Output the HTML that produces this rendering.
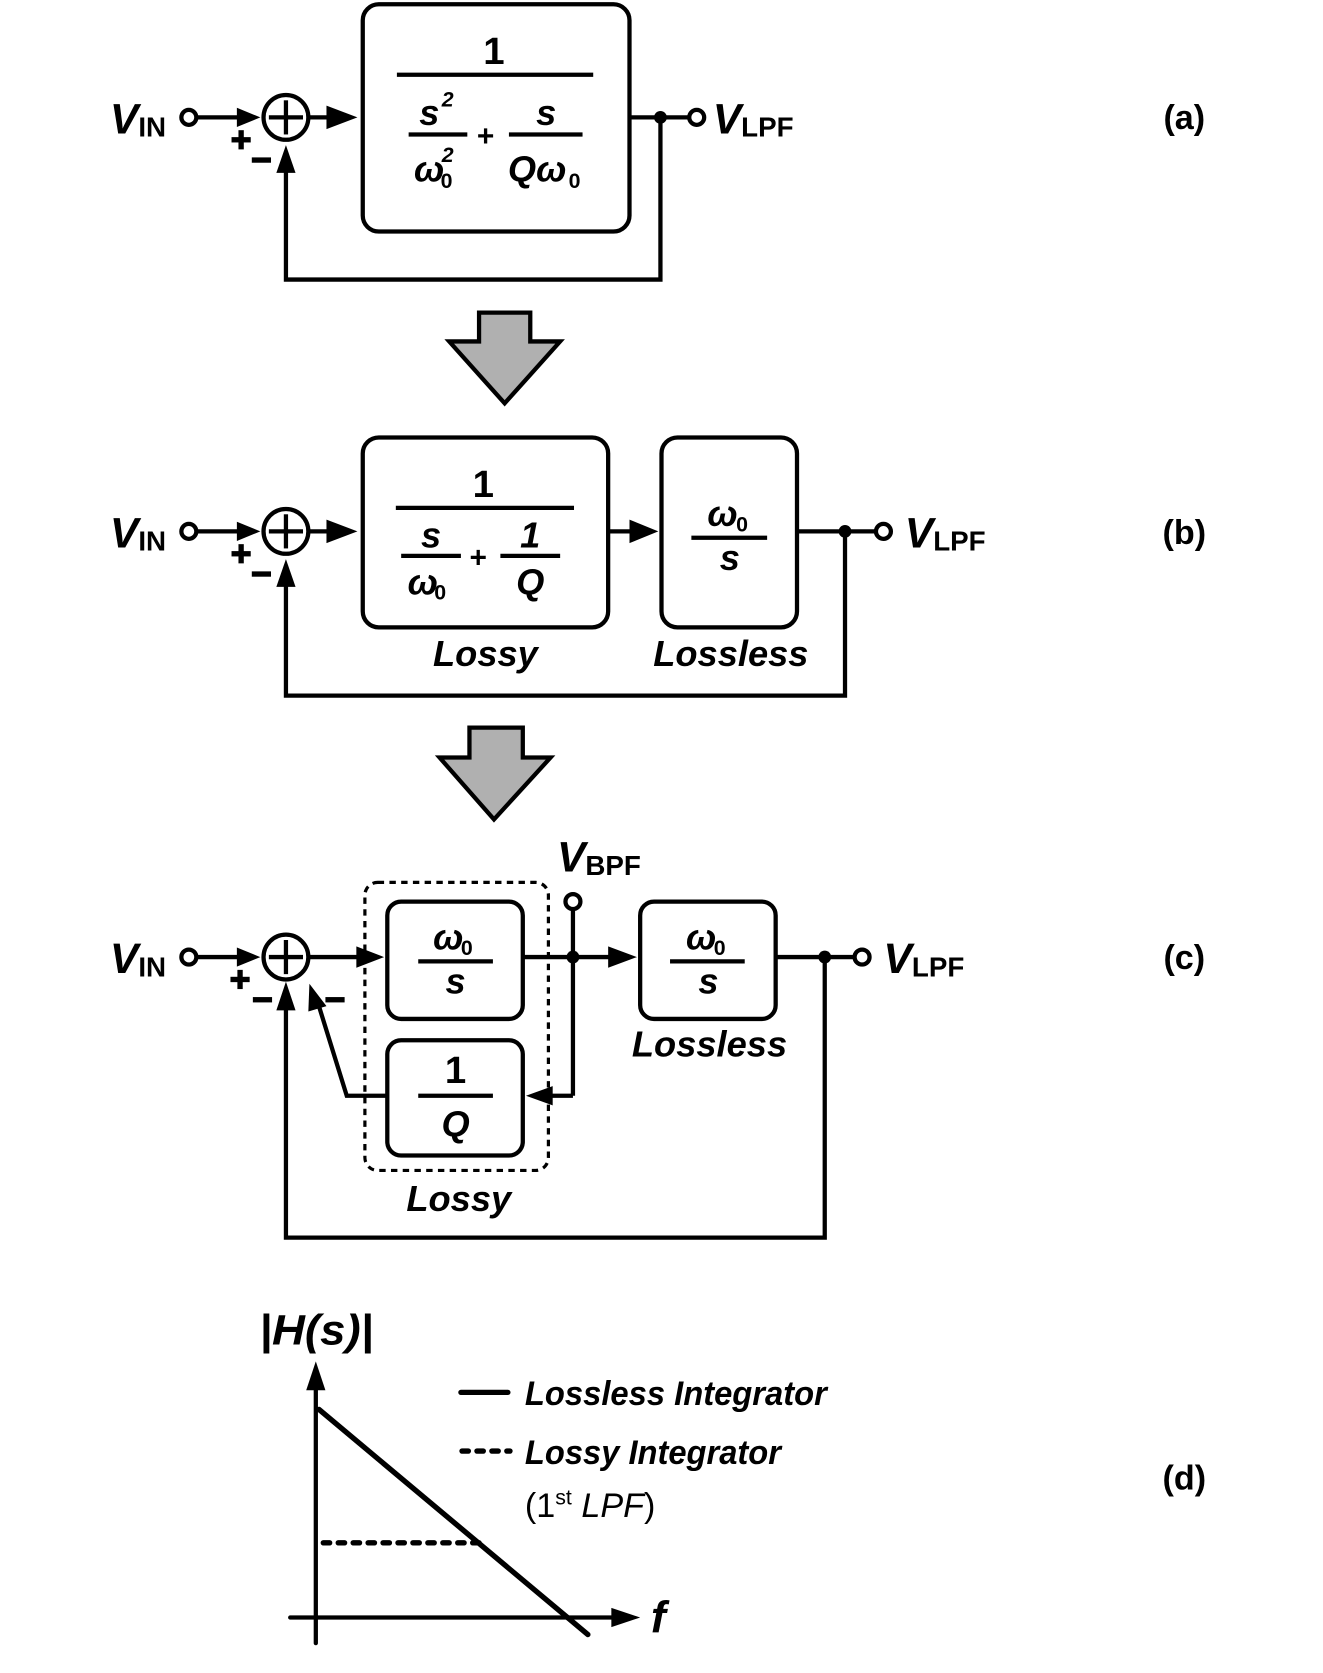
<!DOCTYPE html>
<html><head><meta charset="utf-8"><style>
html,body{margin:0;padding:0;background:#fff;}
svg{display:block;}
text{font-family:"Liberation Sans",Arial,sans-serif;font-weight:bold;fill:#000;}
.it{font-style:italic;}
</style></head><body>
<svg width="1323" height="1673" viewBox="0 0 1240 1568" xmlns="http://www.w3.org/2000/svg">
<defs>
<g id="plus"><rect x="-9" y="-2.5" width="18" height="5"/><rect x="-2.5" y="-9" width="5" height="18"/></g>
<g id="minus"><rect x="-9" y="-2.5" width="18" height="5"/></g>
</defs>
<g stroke="#000" stroke-width="4" fill="none">
<!-- (a) -->
<circle cx="177" cy="110" r="7" fill="#fff"/>
<line x1="184" y1="110" x2="226" y2="110"/>
<circle cx="268" cy="110" r="21"/>
<line x1="252" y1="110" x2="284" y2="110"/><line x1="268" y1="94" x2="268" y2="126"/>
<line x1="289" y1="110" x2="310" y2="110"/>
<rect x="340" y="4" width="250" height="213" rx="15"/>
<line x1="372" y1="70" x2="556" y2="70"/>
<line x1="383" y1="126" x2="438" y2="126"/>
<line x1="477" y1="126" x2="546" y2="126"/>
<line x1="590" y1="110" x2="646" y2="110"/>
<circle cx="653" cy="110" r="7" fill="#fff"/>
<polyline points="619,110 619,262 268,262 268,160"/>
<!-- (b) -->
<circle cx="177" cy="498" r="7" fill="#fff"/>
<line x1="184" y1="498" x2="226" y2="498"/>
<circle cx="268" cy="498" r="21"/>
<line x1="252" y1="498" x2="284" y2="498"/><line x1="268" y1="482" x2="268" y2="514"/>
<line x1="289" y1="498" x2="310" y2="498"/>
<rect x="340" y="410" width="230" height="178" rx="15"/>
<line x1="371" y1="476" x2="538" y2="476"/>
<line x1="376" y1="521" x2="432" y2="521"/>
<line x1="469" y1="521" x2="525" y2="521"/>
<line x1="570" y1="498" x2="592" y2="498"/>
<rect x="620" y="410" width="127" height="178" rx="15"/>
<line x1="648" y1="504" x2="719" y2="504"/>
<line x1="747" y1="498" x2="821" y2="498"/>
<circle cx="828" cy="498" r="7" fill="#fff"/>
<polyline points="792,498 792,652 268,652 268,548"/>
<!-- (c) -->
<circle cx="177" cy="897" r="7" fill="#fff"/>
<line x1="184" y1="897" x2="226" y2="897"/>
<circle cx="268" cy="897" r="21"/>
<line x1="252" y1="897" x2="284" y2="897"/><line x1="268" y1="881" x2="268" y2="913"/>
<line x1="289" y1="897" x2="336" y2="897"/>
<rect x="342" y="827" width="172" height="270" rx="12" stroke-width="3" stroke-dasharray="6,5"/>
<rect x="363" y="845" width="127" height="110" rx="13"/>
<line x1="392" y1="901" x2="462" y2="901"/>
<rect x="363" y="975" width="127" height="108" rx="13"/>
<line x1="392" y1="1027" x2="462" y2="1027"/>
<line x1="490" y1="897" x2="572" y2="897"/>
<line x1="537" y1="852" x2="537" y2="1027"/><line x1="537" y1="1027" x2="515" y2="1027"/>
<circle cx="537" cy="845" r="7" fill="#fff"/>
<polyline points="363,1027 325,1027 298,940"/>
<rect x="600" y="845" width="127" height="110" rx="13"/>
<line x1="628" y1="901" x2="698" y2="901"/>
<line x1="727" y1="897" x2="801" y2="897"/>
<circle cx="808" cy="897" r="7" fill="#fff"/>
<polyline points="773,897 773,1160 268,1160 268,945"/>
<!-- (d) -->
<line x1="296" y1="1540" x2="296" y2="1300" stroke-linecap="round"/>
<line x1="272" y1="1516" x2="575" y2="1516" stroke-linecap="round"/>
<line x1="299" y1="1321" x2="551" y2="1532" stroke-width="5" stroke-linecap="round"/>
<line x1="303" y1="1446" x2="450" y2="1446" stroke-width="5" stroke-dasharray="6,8" stroke-linecap="round"/>
<line x1="432" y1="1305" x2="476" y2="1305" stroke-width="5" stroke-linecap="round"/>
<line x1="433" y1="1360" x2="478" y2="1360" stroke-width="5" stroke-dasharray="6,8" stroke-linecap="round"/>
</g>
<g fill="#000">
<polygon points="244,110 222,101 222,119"/>
<polygon points="335,110 306,99 306,121"/>
<polygon points="268,136 259,162 277,162"/>
<polygon points="244,498 222,489 222,507"/>
<polygon points="335,498 306,487 306,509"/>
<polygon points="268,524 259,550 277,550"/>
<polygon points="617,498 590,487 590,509"/>
<polygon points="244,897 222,888 222,906"/>
<polygon points="360,897 334,887 334,907"/>
<polygon points="597,897 570,887 570,907"/>
<polygon points="268,920 259,947 277,947"/>
<polygon points="493,1027 518,1018 518,1036"/>
<polygon points="290,922 289,948 306,943"/>
<polygon points="296,1276 287,1303 305,1303"/>
<polygon points="600,1516 573,1507 573,1525"/>
<circle cx="619" cy="110" r="6"/>
<circle cx="792" cy="498" r="6"/>
<circle cx="537" cy="897" r="6"/>
<circle cx="773" cy="897" r="6"/>
<use href="#plus" x="226" y="131"/><use href="#minus" x="245" y="150"/>
<use href="#plus" x="226" y="519"/><use href="#minus" x="245" y="538"/>
<use href="#plus" x="225" y="918"/><use href="#minus" x="246" y="937"/><use href="#minus" x="314" y="937"/>
</g>
<polygon points="449,293 497,293 497,320 525,320 473,378 421,320 449,320" fill="#b0b0b0" stroke="#000" stroke-width="4"/>
<polygon points="440,682 490,682 490,710 516,710 463,768 412,710 440,710" fill="#b0b0b0" stroke="#000" stroke-width="4"/>
<!-- text (a) -->
<text x="103" y="125" font-size="40" class="it">V<tspan font-size="26" font-style="normal" dy="3">IN</tspan></text>
<text x="463" y="60" font-size="36" text-anchor="middle">1</text>
<text x="393" y="117" font-size="34" class="it">s</text><text x="414" y="100" font-size="20" class="it">2</text>
<text x="388" y="170" font-size="34" class="it">ω</text><text x="413" y="176" font-size="20">0</text><text x="414" y="152" font-size="20" class="it">2</text>
<text x="447" y="137" font-size="28">+</text>
<text x="512" y="117" font-size="34" class="it" text-anchor="middle">s</text>
<text x="476" y="170" font-size="34" class="it">Qω</text><text x="533" y="176" font-size="20">0</text>
<text x="668" y="125" font-size="40" class="it">V<tspan font-size="26" font-style="normal" dy="3">LPF</tspan></text>
<text x="1110" y="121" font-size="32" text-anchor="middle">(a)</text>
<!-- text (b) -->
<text x="103" y="513" font-size="40" class="it">V<tspan font-size="26" font-style="normal" dy="3">IN</tspan></text>
<text x="453" y="466" font-size="36" text-anchor="middle">1</text>
<text x="404" y="513" font-size="34" class="it" text-anchor="middle">s</text>
<text x="382" y="557" font-size="34" class="it">ω</text><text x="407" y="562" font-size="20">0</text>
<text x="440" y="532" font-size="28">+</text>
<text x="497" y="513" font-size="34" class="it" text-anchor="middle">1</text>
<text x="497" y="557" font-size="34" class="it" text-anchor="middle">Q</text>
<text x="663" y="493" font-size="34" class="it">ω</text><text x="690" y="498" font-size="20">0</text>
<text x="684" y="534" font-size="34" class="it" text-anchor="middle">s</text>
<text x="455" y="624" font-size="34" class="it" text-anchor="middle">Lossy</text>
<text x="685" y="624" font-size="34" class="it" text-anchor="middle">Lossless</text>
<text x="848" y="513" font-size="40" class="it">V<tspan font-size="26" font-style="normal" dy="3">LPF</tspan></text>
<text x="1110" y="510" font-size="32" text-anchor="middle">(b)</text>
<!-- text (c) -->
<text x="103" y="912" font-size="40" class="it">V<tspan font-size="26" font-style="normal" dy="3">IN</tspan></text>
<text x="406" y="890" font-size="34" class="it">ω</text><text x="432" y="895" font-size="20">0</text>
<text x="427" y="931" font-size="34" class="it" text-anchor="middle">s</text>
<text x="427" y="1015" font-size="36" text-anchor="middle">1</text>
<text x="427" y="1065" font-size="34" class="it" text-anchor="middle">Q</text>
<text x="643" y="890" font-size="34" class="it">ω</text><text x="669" y="895" font-size="20">0</text>
<text x="664" y="931" font-size="34" class="it" text-anchor="middle">s</text>
<text x="522" y="817" font-size="40" class="it">V<tspan font-size="26" font-style="normal" dy="3">BPF</tspan></text>
<text x="665" y="990" font-size="34" class="it" text-anchor="middle">Lossless</text>
<text x="430" y="1135" font-size="34" class="it" text-anchor="middle">Lossy</text>
<text x="828" y="912" font-size="40" class="it">V<tspan font-size="26" font-style="normal" dy="3">LPF</tspan></text>
<text x="1110" y="908" font-size="32" text-anchor="middle">(c)</text>
<!-- text (d) -->
<text x="243" y="1260" font-size="40" class="it" textLength="107" lengthAdjust="spacingAndGlyphs">|H(s)|</text>
<text x="492" y="1317" font-size="32" class="it" textLength="283" lengthAdjust="spacingAndGlyphs">Lossless Integrator</text>
<text x="492" y="1372" font-size="32" class="it" textLength="240" lengthAdjust="spacingAndGlyphs">Lossy Integrator</text>
<text x="492" y="1422" font-size="32" style="font-weight:normal">(1<tspan font-size="20" dy="-12">st</tspan><tspan dy="12" font-style="italic"> LPF</tspan>)</text>
<text x="610" y="1530" font-size="42" class="it">f</text>
<text x="1110" y="1396" font-size="32" text-anchor="middle">(d)</text>
</svg>
</body></html>
